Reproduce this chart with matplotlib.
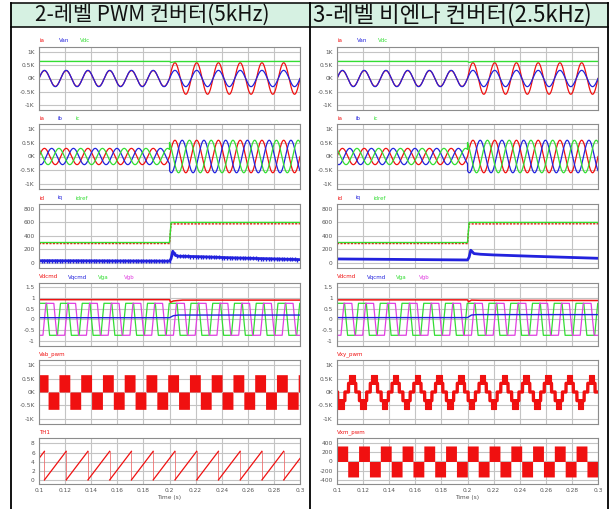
"""Two-column PSIM-style waveform comparison: 2-level PWM vs 3-level Vienna."""

import matplotlib

matplotlib.use("Agg")
import matplotlib.pyplot as plt
import numpy as np
from matplotlib.lines import Line2D
from matplotlib.patches import Rectangle

plt.rcParams["font.family"] = ["DejaVu Sans"]
plt.rcParams["axes.unicode_minus"] = False

# ---- data ------------------------------------------------------------------
headers = ["2-레벨 PWM 컨버터(5kHz)", "3-레벨 비엔나 컨버터(2.5kHz)"]

time_range = [0.1, 0.3]
step_time = 0.2
grid_hz = 60.0
x_ticks = [0.1, 0.12, 0.14, 0.16, 0.18, 0.2, 0.22, 0.24, 0.26, 0.28, 0.3]
x_tick_labels = ["0.1", "0.12", "0.14", "0.16", "0.18", "0.2",
                 "0.22", "0.24", "0.26", "0.28", "0.3"]

# panel 1 / 2: currents and phase voltage (peak before / after load step)
ia_peak = [300, 600]
van_peak = [310, 310]
vdc_t = [0.1, 0.2, 0.2012, 0.2045, 0.3]
vdc_v = [650, 650, 615, 645, 650]

# panel 3: dq currents
idref_t = [0.1, 0.2, 0.2012, 0.3]
idref_v = [300, 300, 600, 600]
id_v = [285, 285, 578, 580]
iq_t_2l = [0.1, 0.2, 0.2012, 0.2025, 0.2045, 0.207, 0.22, 0.25, 0.3]
iq_v_2l = [28, 22, 60, 170, 110, 95, 90, 70, 45]
iq_t_3l = [0.1, 0.2, 0.2012, 0.2025, 0.205, 0.21, 0.22, 0.25, 0.3]
iq_v_3l = [55, 40, 80, 185, 135, 125, 115, 95, 65]

# panel 4: modulation commands and gate references
vdcmd_t = [0.1, 0.2, 0.2008, 0.203, 0.21, 0.3]
vdcmd_2l = [0.92, 0.92, 0.80, 0.86, 0.90, 0.90]
vdcmd_3l = [0.91, 0.91, 0.82, 0.90, 0.89, 0.88]
vqcmd_t = [0.1, 0.2, 0.203, 0.207, 0.3]
vqcmd_2l = [0.075, 0.075, 0.17, 0.20, 0.20]
vqcmd_3l = [0.08, 0.08, 0.20, 0.22, 0.22]
vg_level = 0.75
vg_gain = 1.8
vga_phase_deg = 30
vgb_phase_deg = -90

# panel 5 / 6: switched voltages and PLL angle
vab_level = 650
vab_phase_deg = 30
vxy_levels = [325, 650]
vxy_bands = [0.5, 0.7]
vxy_phase_deg = 200
vxm_level = 330
vxm_phase_deg = 3
th_phase_deg = 270

# ---- styling ----------------------------------------------------------------
RED = "#f01010"
BLUE = "#2222dd"
GREEN = "#33dd33"
MAGENTA = "#e040e0"
GRID = "#c4c4c4"
TICK = "#555555"
HEADER_BG = "#d6f1e2"

W, H = 611, 509
fig = plt.figure(figsize=(W / 100, H / 100), dpi=100)
fig.patch.set_facecolor("white")


def fx(x):
    return x / W


def fy(y):
    return 1 - y / H


# header band and table lines
for x0, x1 in [(11, 310), (310, 608)]:
    fig.add_artist(Rectangle((fx(x0), fy(27)), fx(x1 - x0), 24 / H,
                             transform=fig.transFigure, facecolor=HEADER_BG,
                             edgecolor="none", zorder=0))
for x in [11, 310, 608]:
    fig.add_artist(Line2D([fx(x), fx(x)], [fy(3), fy(509)], color="black",
                          lw=1.3, transform=fig.transFigure))
for y in [3, 27]:
    fig.add_artist(Line2D([fx(11), fx(608)], [fy(y), fy(y)], color="black",
                          lw=1.1, transform=fig.transFigure))
fig.text(fx(152), fy(15), headers[0], ha="center", va="center", fontsize=15,
         family=["Noto Sans CJK KR", "DejaVu Sans"], color="#111111")
fig.text(fx(452), fy(15), headers[1], ha="center", va="center", fontsize=16,
         family=["Noto Sans CJK KR", "DejaVu Sans"], color="#111111")

col_left = [39, 337]
plot_w = 261
panel_rows = [(47, 110), (124, 189), (204, 268), (283, 346), (360, 424), (438, 484)]

t = np.linspace(time_range[0], time_range[1], 24001)
w = 2 * np.pi * grid_hz
after = t >= step_time


def stepped(values):
    return np.where(after, values[1], values[0])


def phase(deg):
    return w * t + np.deg2rad(deg)


def make_axes(col, row):
    top, bottom = panel_rows[row]
    ax = fig.add_axes([fx(col_left[col]), fy(bottom), fx(plot_w),
                       (bottom - top) / H])
    ax.set_xlim(time_range)
    ax.set_xticks(x_ticks)
    ax.grid(True, color=GRID, lw=0.8)
    ax.set_axisbelow(True)
    ax.tick_params(length=0, labelsize=4.2, labelcolor=TICK, pad=3)
    for spine in ax.spines.values():
        spine.set_color("#8c8c8c")
        spine.set_linewidth(0.8)
    if row == 5:
        ax.set_xticklabels(x_tick_labels)
        ax.set_xlabel("Time (s)", fontsize=4.2, color=TICK, labelpad=1)
    else:
        ax.set_xticklabels([])
    return ax


def legend(col, row, labels, offsets, colors):
    top = panel_rows[row][0]
    for label, dx, c in zip(labels, offsets, colors):
        fig.text(fx(col_left[col] + dx), fy(top - 6), label, fontsize=4,
                 color=c, ha="left", va="center")


k_ticks = [-1000, -500, 0, 500, 1000]
k_labels = ["-1K", "-0.5K", "0K", "0.5K", "1K"]

for col in range(2):
    # panel 1
    ax = make_axes(col, 0)
    ax.plot(t, stepped(ia_peak) * np.sin(w * t), color=RED, lw=0.9)
    ax.plot(t, stepped(van_peak) * np.sin(w * t), color=BLUE, lw=0.9)
    ax.plot(vdc_t, vdc_v, color=GREEN, lw=1.0)
    ax.set_ylim(-1200, 1200)
    ax.set_yticks(k_ticks, k_labels)
    legend(col, 0, ["ia", "Van", "Vdc"], [0, 20, 41], [RED, BLUE, GREEN])

    # panel 2
    ax = make_axes(col, 1)
    amp = stepped(ia_peak)
    ax.plot(t, amp * np.sin(w * t), color=RED, lw=0.9)
    ax.plot(t, amp * np.sin(w * t - 2 * np.pi / 3), color=BLUE, lw=0.9)
    ax.plot(t, amp * np.sin(w * t + 2 * np.pi / 3), color=GREEN, lw=0.9)
    ax.set_ylim(-1200, 1200)
    ax.set_yticks(k_ticks, k_labels)
    legend(col, 1, ["ia", "ib", "ic"], [0, 18, 36], [RED, BLUE, GREEN])

    # panel 3
    ax = make_axes(col, 2)
    ax.plot(idref_t, id_v, color=RED, lw=1.0, ls=(0, (1.5, 1)))
    ax.plot(idref_t, idref_v, color=GREEN, lw=1.0)
    if col == 0:
        ax.plot(iq_t_2l, iq_v_2l, color=BLUE, lw=2.0)
        tick_t = np.arange(0.1, 0.3, 0.002)
        ax.plot(tick_t, np.interp(tick_t, iq_t_2l, iq_v_2l), ls="none",
                marker="|", ms=3.5, mew=1.0, color=BLUE)
    else:
        ax.plot(iq_t_3l, iq_v_3l, color=BLUE, lw=2.0)
    ax.set_ylim(-80, 875)
    ax.set_yticks([0, 200, 400, 600, 800])
    legend(col, 2, ["id", "iq", "idref"], [0, 18, 36], [RED, BLUE, GREEN])

    # panel 4
    ax = make_axes(col, 3)
    vga = np.clip(vg_gain * np.sin(phase(vga_phase_deg)), -vg_level, vg_level)
    vgb = np.clip(vg_gain * np.sin(phase(vgb_phase_deg)), -vg_level, vg_level)
    ax.plot(t, vga, color=GREEN, lw=0.9)
    ax.plot(t, vgb, color=MAGENTA, lw=0.9)
    ax.plot(vdcmd_t, vdcmd_2l if col == 0 else vdcmd_3l, color=RED, lw=1.1)
    ax.plot(vqcmd_t, vqcmd_2l if col == 0 else vqcmd_3l, color=BLUE, lw=1.0)
    ax.set_ylim(-1.25, 1.7)
    ax.set_yticks([-1, -0.5, 0, 0.5, 1, 1.5], ["-1", "-0.5", "0", "0.5", "1", "1.5"])
    legend(col, 3, ["Vdcmd", "Vqcmd", "Vga", "Vgb"],
           [0, 29, 59, 85] if col == 0 else [0, 30, 59, 82],
           [RED, BLUE, GREEN, MAGENTA])

    # panel 5
    ax = make_axes(col, 4)
    if col == 0:
        s = np.sign(np.sin(phase(vab_phase_deg)))
        ax.fill_between(t, 0, vab_level * s, color=RED, lw=0)
        legend(col, 4, ["Vab_pwm"], [0], [RED])
    else:
        r = np.sin(phase(vxy_phase_deg))
        base = vxy_levels[0] * np.sign(r) * (np.abs(r) >= vxy_bands[0])
        ax.plot(t, base, color=RED, lw=2.4)
        peak = np.abs(r) >= vxy_bands[1]
        ax.fill_between(t, vxy_levels[0] * np.sign(r), vxy_levels[1] * np.sign(r),
                        where=peak, color=RED, lw=0.8, edgecolor=RED)
        legend(col, 4, ["Vxy_pwm"], [0], [RED])
    ax.set_ylim(-1200, 1200)
    ax.set_yticks(k_ticks, k_labels)

    # panel 6
    ax = make_axes(col, 5)
    if col == 0:
        th = np.mod(phase(th_phase_deg), 2 * np.pi)
        wraps = np.flatnonzero(np.diff(th) < 0)
        th_line = th.copy()
        th_line[wraps] = np.nan
        ax.vlines(t[wraps], th[wraps + 1], th[wraps], color="#f07070", lw=0.6)
        ax.plot(t, th_line, color=RED, lw=0.9)
        ax.set_ylim(-0.9, 9.2)
        ax.set_yticks([0, 2, 4, 6, 8])
        legend(col, 5, ["TH1"], [0], [RED])
    else:
        s = np.sign(np.sin(phase(vxm_phase_deg)))
        ax.fill_between(t, 0, vxm_level * s, color=RED, lw=0)
        ax.set_ylim(-480, 500)
        ax.set_yticks([-400, -200, 0, 200, 400], ["-400", "-200", "0", "200", "400"])
        legend(col, 5, ["Vxm_pwm"], [0], [RED])

fig.savefig("out.png", dpi=100)
